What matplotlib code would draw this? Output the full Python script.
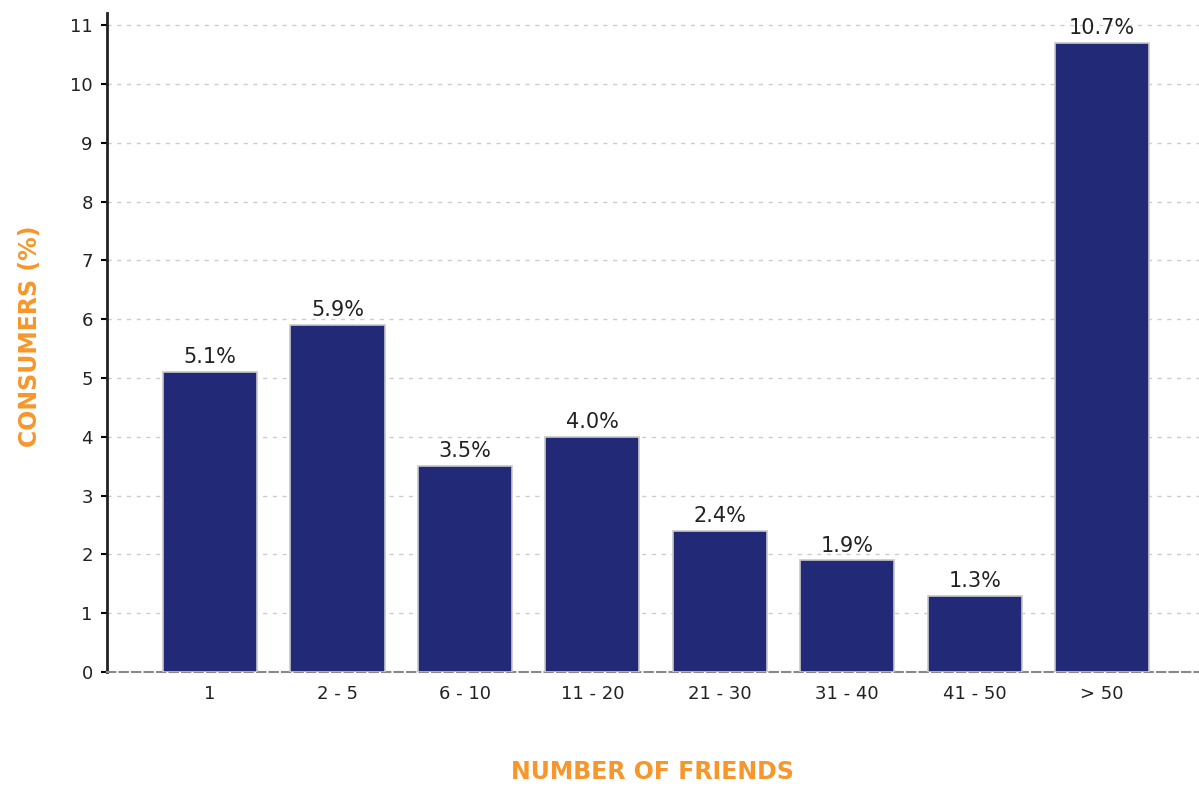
import matplotlib.pyplot as plt

categories = ["1", "2 - 5", "6 - 10", "11 - 20", "21 - 30", "31 - 40", "41 - 50", "> 50"]
consumers = [5.1, 5.9, 3.5, 4.0, 2.4, 1.9, 1.3, 10.7]
labels = ["5.1%", "5.9%", "3.5%", "4.0%", "2.4%", "1.9%", "1.3%", "10.7%"]

orange = "#f7962a"
navy = "#222a78"

fig = plt.figure(figsize=(11.99, 7.86), dpi=100)
ax = fig.add_axes([0.089, 0.145, 0.911, 0.838])

x = range(len(categories))
ax.bar(x, consumers, width=0.74, color=navy, edgecolor="#c8c8c8", linewidth=1.2, zorder=3)

for i, v in enumerate(consumers):
    ax.text(i, v + 0.08, labels[i], ha="center", va="bottom", fontsize=15, color="#222222", zorder=4)

ax.set_xlim(-0.81, 7.76)
ax.set_ylim(0, 11.2)
ax.set_yticks(range(0, 12))
ax.set_xticks(list(x))
ax.set_xticklabels(categories)
ax.tick_params(axis="x", length=0, pad=9, labelsize=13, labelcolor="#222222")
ax.tick_params(axis="y", length=4, width=1.5, direction="out", labelsize=13, labelcolor="#222222", pad=6)

ax.grid(axis="y", color="#cccccc", linestyle=(0, (3, 4)), linewidth=1, zorder=0)
ax.set_axisbelow(True)

for s in ["top", "right"]:
    ax.spines[s].set_visible(False)
ax.spines["left"].set_linewidth(2)
ax.spines["left"].set_color("#222222")
ax.spines["bottom"].set_color("#888888")
ax.spines["bottom"].set_linestyle((0, (4, 2)))
ax.spines["bottom"].set_linewidth(1.5)

ax.set_xlabel("NUMBER OF FRIENDS", color=orange, fontsize=17, fontweight="bold", va="center")
ax.set_ylabel("CONSUMERS (%)", color=orange, fontsize=17, fontweight="bold", va="center")
ax.xaxis.set_label_coords(0.5, -0.152)
ax.yaxis.set_label_coords(-0.0705, 0.51)

fig.savefig("out.png", dpi=100)
